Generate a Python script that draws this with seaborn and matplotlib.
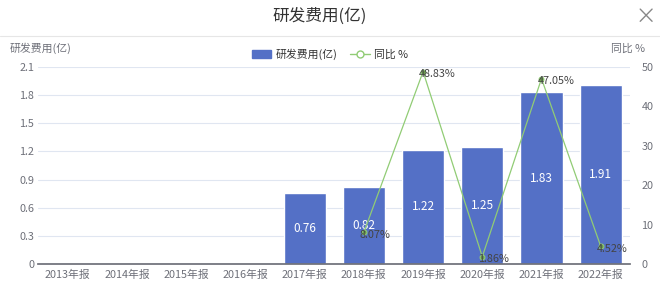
import numpy as np
import pandas as pd
import matplotlib
matplotlib.use("Agg")
import matplotlib.pyplot as plt
import seaborn as sns
from matplotlib.lines import Line2D
from matplotlib.patches import Patch

# data
years = ["2013年报", "2014年报", "2015年报", "2016年报", "2017年报",
         "2018年报", "2019年报", "2020年报", "2021年报", "2022年报"]
rd_cost = [np.nan, np.nan, np.nan, np.nan, 0.76, 0.82, 1.22, 1.25, 1.83, 1.91]
yoy = [np.nan, np.nan, np.nan, np.nan, np.nan, 8.07, 48.83, 1.86, 47.05, 4.52]
left_ticks = [0, 0.3, 0.6, 0.9, 1.2, 1.5, 1.8, 2.1]
right_ticks = [0, 10, 20, 30, 40, 50]

BAR = "#5470c6"
LINE = "#91cc75"
AXC = "#6e7079"

sns.set_theme(style="white")
plt.rcParams["font.family"] = ["Noto Sans CJK SC", "DejaVu Sans"]

df = pd.DataFrame({"year": years, "cost": rd_cost, "yoy": yoy, "pos": np.arange(len(years))})

fig = plt.figure(figsize=(6.6, 2.84), dpi=100)
ax = fig.add_axes([0.058, 0.0704, 0.897, 0.6936])

sns.barplot(data=df, x="year", y="cost", color=BAR, width=0.71, saturation=1, ax=ax)
ax.set_xlim(-0.5, 9.5)
ax.set_ylim(0, 2.1)
ax.set_yticks(left_ticks)
ax.set_yticklabels([("%g" % t) for t in left_ticks])
ax.set_xlabel("")
ax.set_ylabel("")
ax.yaxis.grid(True, color="#e0e6f1", lw=0.8)
ax.set_axisbelow(True)
for s in ["top", "right", "left"]:
    ax.spines[s].set_visible(False)
ax.spines["bottom"].set_color(AXC)
ax.tick_params(axis="both", colors=AXC, labelsize=7.8, length=0, pad=3)
ax.tick_params(axis="x", pad=4)

# bar values
for i, v in enumerate(rd_cost):
    if not np.isnan(v):
        ax.text(i, v / 2, f"{v:.2f}", color="white", ha="center", va="center",
                fontsize=8.5)

ax2 = ax.twinx()
sns.lineplot(data=df.dropna(subset=["yoy"]), x="pos", y="yoy", color=LINE, lw=0.9,
             marker="o", markersize=3.5, markerfacecolor="#6a9c4e",
             markeredgecolor=LINE, ax=ax2)
ax2.set_ylim(0, 50)
ax2.set_yticks(right_ticks)
ax2.set_xlim(-0.5, 9.5)
ax2.set_xlabel("")
ax2.set_ylabel("")
for s in ["top", "right", "left", "bottom"]:
    ax2.spines[s].set_visible(False)
ax2.tick_params(axis="y", colors=AXC, labelsize=7.8, length=0, pad=8)

for i, v in enumerate(yoy):
    if not np.isnan(v):
        ax2.annotate(f"{v:.2f}%", (i, v), xytext=(-3, -2), textcoords="offset points",
                     ha="left", va="center", fontsize=7.8, color="#444444")

# title, close mark, axis names
fig.text(0.485, 0.944, "研发费用(亿)", ha="center", va="center", fontsize=12, color="#333333")
fig.add_artist(Line2D([0, 1], [0.872, 0.872], color="#e6e6e6", lw=0.8))
fig.add_artist(Line2D([0.970, 0.988], [0.925, 0.968], color="#888888", lw=1))
fig.add_artist(Line2D([0.970, 0.988], [0.968, 0.925], color="#888888", lw=1))
fig.text(0.015, 0.83, "研发费用(亿)", ha="left", va="center", fontsize=7.8, color=AXC)
fig.text(0.978, 0.83, "同比 %", ha="right", va="center", fontsize=7.8, color=AXC)

handles = [Patch(facecolor=BAR, edgecolor=BAR),
           Line2D([0], [0], color=LINE, lw=1, marker="o", markersize=5,
                  markerfacecolor="white", markeredgecolor=LINE)]
fig.legend(handles, ["研发费用(亿)", "同比 %"], loc="center", bbox_to_anchor=(0.5, 0.81),
           ncol=2, frameon=False, fontsize=7.8, handlelength=1.8, handleheight=0.8,
           columnspacing=1.2, handletextpad=0.4, labelcolor="#333333")

fig.savefig("out.png", dpi=100)
